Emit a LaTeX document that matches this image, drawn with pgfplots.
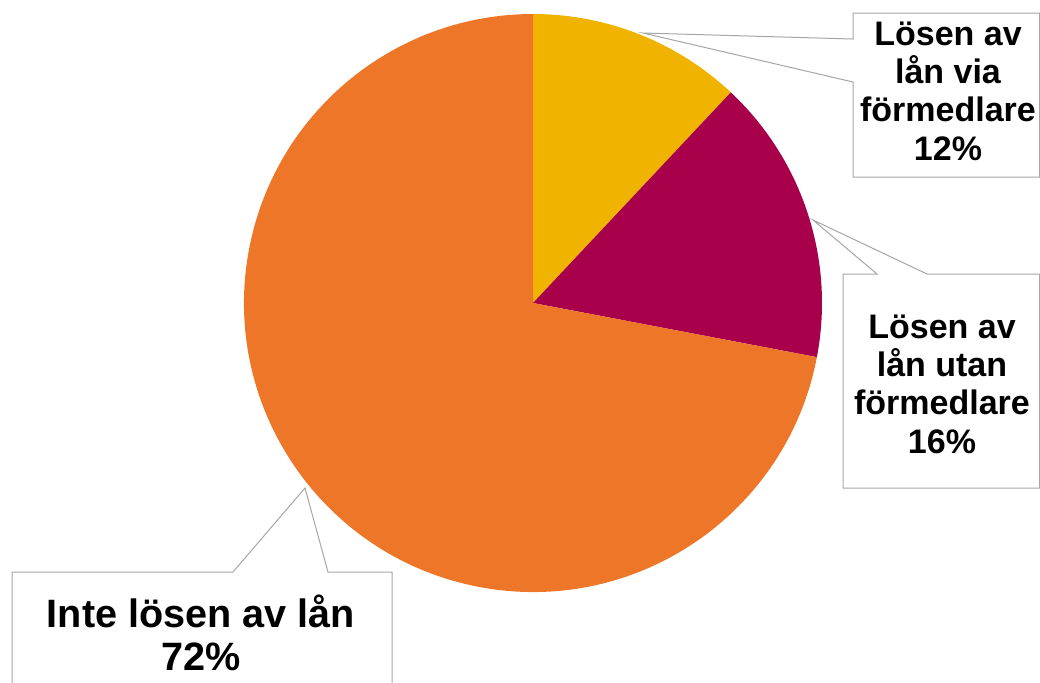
\documentclass[border=0pt]{standalone}
\usepackage{pgfplots}
\pgfplotsset{compat=1.18}
\usepackage{pgfplotstable}
\usepackage{fontspec}
\setmainfont{Liberation Sans}

\definecolor{cYellow}{HTML}{F0B400}
\definecolor{cRed}{HTML}{A8004A}
\definecolor{cOrange}{HTML}{EE7628}
\definecolor{cEdge}{HTML}{A6A6A6}

% share of each slice, in percent (clockwise from 12 o'clock)
\pgfplotstableread{
slice value
via   12
utan  16
inte  72
}\piedata

\begin{document}
\begin{tikzpicture}
\pgfplotstablegetelem{0}{value}\of\piedata \let\va\pgfplotsretval
\pgfplotstablegetelem{1}{value}\of\piedata \let\vb\pgfplotsretval
\pgfplotstablegetelem{2}{value}\of\piedata \let\vc\pgfplotsretval
\pgfmathsetmacro\aA{90}
\pgfmathsetmacro\aB{90-3.6*\va}
\pgfmathsetmacro\aC{\aB-3.6*\vb}
\pgfmathsetmacro\aD{\aC-3.6*\vc}
\def\R{144.5pt}
\begin{axis}[
    width=520pt, height=341pt, scale only axis,
    xmin=0, xmax=1040, ymin=0, ymax=682,
    y dir=reverse,
    hide axis,
    clip=false,
]
% slices
\fill[cYellow] (axis cs:533,303) -- ++(\aA:\R) arc[start angle=\aA, end angle=\aB, radius=\R] -- cycle;
\fill[cRed]    (axis cs:533,303) -- ++(\aB:\R) arc[start angle=\aB, end angle=\aC, radius=\R] -- cycle;
\fill[cOrange] (axis cs:533,303) -- ++(\aC:\R) arc[start angle=\aC, end angle=\aD, radius=\R] -- cycle;

% callouts
\filldraw[fill=white, draw=cEdge, line width=0.5pt]
  (axis cs:853,13) -- (axis cs:1039.5,13) -- (axis cs:1039.5,177) -- (axis cs:853,177)
  -- (axis cs:853,82) -- (axis cs:643,33) -- (axis cs:853,39) -- cycle;
\filldraw[fill=white, draw=cEdge, line width=0.5pt]
  (axis cs:843,274) -- (axis cs:877,274) -- (axis cs:813,220) -- (axis cs:927,274)
  -- (axis cs:1039.5,274) -- (axis cs:1039.5,488) -- (axis cs:843,488) -- cycle;
\fill[white] (axis cs:12,682) -- (axis cs:12,572) -- (axis cs:233,572) -- (axis cs:305,488)
  -- (axis cs:328,572) -- (axis cs:392,572) -- (axis cs:392,682) -- cycle;
\draw[cEdge, line width=0.5pt] (axis cs:12,684) -- (axis cs:12,572) -- (axis cs:233,572) -- (axis cs:305,488)
  -- (axis cs:328,572) -- (axis cs:392,572) -- (axis cs:392,684);

\node[align=center, font=\fontsize{17}{19.2}\selectfont\bfseries, inner sep=0pt]
  at (axis cs:948,91) {Lösen av\\lån via\\förmedlare\\12\%};
\node[align=center, font=\fontsize{17}{19.2}\selectfont\bfseries, inner sep=0pt]
  at (axis cs:942,384) {Lösen av\\lån utan\\förmedlare\\16\%};
\node[align=center, font=\fontsize{19.8}{21.5}\selectfont\bfseries, inner sep=0pt]
  at (axis cs:201,633) {Inte lösen av lån\\72\%};
\end{axis}
\pgfresetboundingbox
\path (current axis.south west) rectangle (current axis.north east);
\end{tikzpicture}
\end{document}
